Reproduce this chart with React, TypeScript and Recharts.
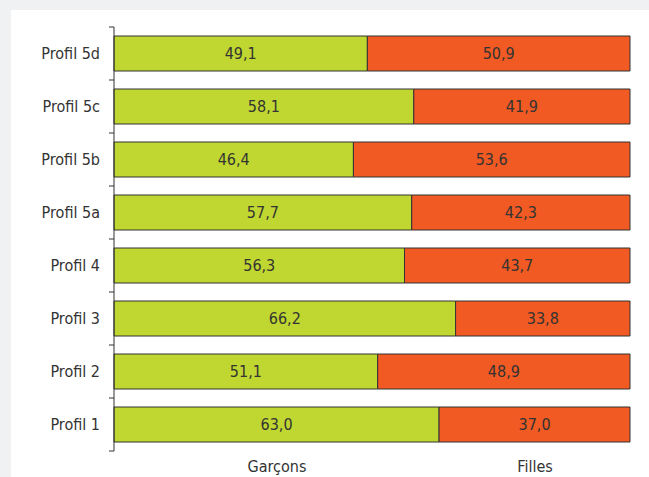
import React from 'react';
import { BarChart, Bar, XAxis, YAxis, Legend, LabelList } from 'recharts';

const profils = ['Profil 5d', 'Profil 5c', 'Profil 5b', 'Profil 5a', 'Profil 4', 'Profil 3', 'Profil 2', 'Profil 1'];
const garcons = [49.1, 58.1, 46.4, 57.7, 56.3, 66.2, 51.1, 63.0];
const filles = [50.9, 41.9, 53.6, 42.3, 43.7, 33.8, 48.9, 37.0];

const data = profils.map((p, i) => ({ profil: p, garcons: garcons[i], filles: filles[i] }));

const FONT = "'Liberation Sans Narrow', 'DejaVu Sans Condensed', 'Arial Narrow', sans-serif";
const TEXT = '#333333';
const FS = 16;
const GAP = 14;
const fmt = (v: any) => Number(v).toFixed(1).replace('.', ',');

// label + tick marks on the band boundaries (ticks sit between categories)
const ProfilTick = (props: any) => {
  const { x, y, payload, index, visibleTicksCount } = props;
  const half = payload.offset || 0;
  const ax = x + GAP;
  const last = index === (visibleTicksCount ?? profils.length) - 1;
  return (
    <g>
      <line x1={ax - 5} x2={ax} y1={y - half} y2={y - half} stroke={TEXT} />
      {last && <line x1={ax - 5} x2={ax} y1={y + half} y2={y + half} stroke={TEXT} />}
      <text x={x} y={y} dy="0.35em" textAnchor="end" fill={TEXT} fontSize={FS} fontFamily={FONT}>
        {payload.value}
      </text>
    </g>
  );
};

const BottomLabels = () => (
  <div style={{ position: 'relative', height: 26, fontFamily: FONT, fontSize: FS, color: TEXT }}>
    <span style={{ position: 'absolute', left: 266, top: 6, lineHeight: '20px', transform: 'translateX(-50%)' }}>Garçons</span>
    <span style={{ position: 'absolute', left: 524, top: 6, lineHeight: '20px', transform: 'translateX(-50%)' }}>Filles</span>
  </div>
);

export default function App() {
  return (
    <div style={{ position: 'absolute', left: 0, top: 0, width: 649, height: 477, background: '#f0f1f3', overflow: 'hidden' }}>
      <div style={{ position: 'absolute', left: 11, top: 10, width: 638, height: 467, background: '#ffffff' }}>
        <BarChart
          width={638}
          height={467}
          data={data}
          layout="vertical"
          barCategoryGap="17%"
          margin={{ top: 17, right: 19, left: 0, bottom: 0 }}
        >
          <XAxis type="number" domain={[0, 100]} hide />
          <YAxis
            type="category"
            dataKey="profil"
            width={103}
            interval={0}
            axisLine={{ stroke: TEXT }}
            tickLine={false}
            tickSize={0}
            tickMargin={GAP}
            tick={<ProfilTick />}
          />
          <Legend verticalAlign="bottom" content={<BottomLabels />} wrapperStyle={{ left: 0, width: 638 }} />
          <Bar dataKey="garcons" stackId="a" fill="#bfd730" stroke="#333333" strokeWidth={1} isAnimationActive={false}>
            <LabelList dataKey="garcons" position="center" formatter={fmt} fill={TEXT} fontSize={FS} fontFamily={FONT} />
          </Bar>
          <Bar dataKey="filles" stackId="a" fill="#f15a22" stroke="#333333" strokeWidth={1} isAnimationActive={false}>
            <LabelList dataKey="filles" position="center" formatter={fmt} fill={TEXT} fontSize={FS} fontFamily={FONT} />
          </Bar>
        </BarChart>
      </div>
    </div>
  );
}
